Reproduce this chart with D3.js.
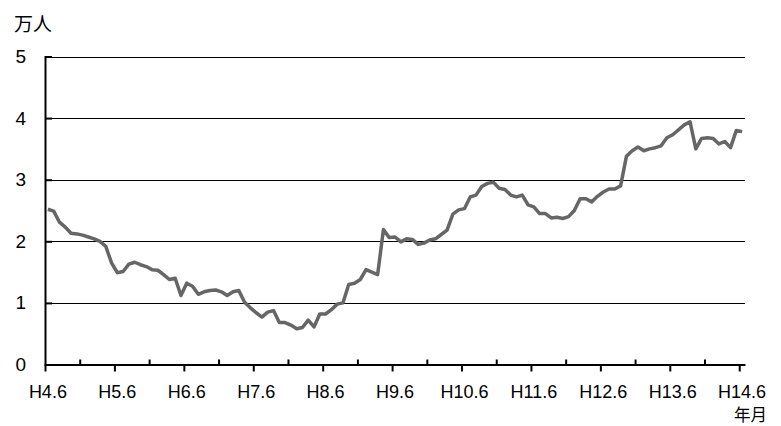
<!DOCTYPE html>
<html>
<head>
<meta charset="utf-8">
<script src="https://cdn.jsdelivr.net/npm/d3@7"></script>
<style>
  body { margin: 0; background: #fff; }
  text { font-family: "Liberation Sans", Arial, sans-serif; }
</style>
</head>
<body>
<div id="chart"></div>
<script>
// monthly values, H4.6 .. H14.6 (万人)
const values = [
  2.52, 2.49, 2.31, 2.23, 2.13, 2.12, 2.10, 2.07, 2.04, 2.00, 1.92, 1.65,
  1.49, 1.51, 1.63, 1.66, 1.62, 1.59, 1.54, 1.53, 1.46, 1.38, 1.40, 1.12,
  1.32, 1.27, 1.14, 1.18, 1.20, 1.21, 1.18, 1.12, 1.18, 1.20, 1.01, 0.92,
  0.84, 0.77, 0.85, 0.875, 0.68, 0.68, 0.64, 0.58, 0.60, 0.72, 0.61, 0.82,
  0.82, 0.89, 0.98, 1.00, 1.30, 1.32, 1.38, 1.54, 1.50, 1.46, 2.19, 2.06,
  2.07, 1.99, 2.04, 2.03, 1.95, 1.97, 2.02, 2.04, 2.11, 2.18, 2.44, 2.51,
  2.53, 2.72, 2.75, 2.89, 2.94, 2.96, 2.86, 2.84, 2.75, 2.72, 2.75, 2.59,
  2.56, 2.45, 2.45, 2.38, 2.39, 2.37, 2.40, 2.50, 2.69, 2.69, 2.64, 2.73,
  2.80, 2.85, 2.85, 2.90, 3.38, 3.47, 3.53, 3.47, 3.50, 3.52, 3.55, 3.68,
  3.73, 3.81, 3.89, 3.94, 3.50, 3.67, 3.68, 3.67, 3.58, 3.62, 3.52, 3.80,
  3.78
];
const xLabels = ["H4.6", "H5.6", "H6.6", "H7.6", "H8.6", "H9.6", "H10.6", "H11.6", "H12.6", "H13.6", "H14.6"];
const yTicks = [0, 1, 2, 3, 4, 5];

const width = 781, height = 426;
const margin = {left: 45, right: 745, top: 56.5, bottom: 364.5};

const svg = d3.select("#chart").append("svg")
    .attr("width", width)
    .attr("height", height);

const x = d3.scaleLinear().domain([0, values.length]).range([margin.left, margin.right]);
const y = d3.scaleLinear().domain([0, 5]).range([margin.bottom, margin.top]);

const major = xLabels.map((d, i) => i * 12);
const minor = major.slice(0, -1).map(d => d + 6);

// gridlines
svg.append("g")
    .selectAll("line")
    .data(yTicks.filter(d => d > 0))
    .join("line")
    .attr("x1", margin.left).attr("x2", margin.right)
    .attr("y1", d => Math.round(y(d)) + 0.5)
    .attr("y2", d => Math.round(y(d)) + 0.5)
    .attr("stroke", "#000")
    .attr("stroke-width", 1);

// y axis
const yAxis = svg.append("g")
    .attr("transform", `translate(${margin.left},0)`)
    .call(d3.axisLeft(y).tickValues(yTicks).tickFormat(d3.format("d")).tickSize(-7).tickPadding(19));
yAxis.select(".domain").attr("stroke-width", 2);
yAxis.selectAll(".tick line").attr("stroke-width", 2);
yAxis.selectAll("text").style("font-size", "19px").attr("fill", "#000");

// x axis major ticks (down) and minor ticks (up)
const xAxis = svg.append("g")
    .attr("transform", `translate(0,${margin.bottom})`)
    .call(d3.axisBottom(x).tickValues(major).tickSize(7).tickSizeOuter(0).tickFormat(""));
xAxis.select(".domain").attr("stroke-width", 2);
xAxis.selectAll(".tick line").attr("stroke-width", 2);

svg.append("g")
    .attr("transform", `translate(0,${margin.bottom})`)
    .call(d3.axisBottom(x).tickValues(minor).tickSize(-5).tickFormat(""))
    .call(g => g.select(".domain").remove())
    .selectAll(".tick line").attr("stroke-width", 2);

// x labels centred on the month
svg.append("g")
    .selectAll("text")
    .data(xLabels)
    .join("text")
    .attr("x", (d, i) => x(major[i] + 0.5))
    .attr("y", 398)
    .attr("text-anchor", "middle")
    .style("font-size", "18px")
    .text(d => d);

// line
const line = d3.line()
    .x((d, i) => x(i + 0.5))
    .y(d => y(d));

svg.append("path")
    .datum(values)
    .attr("fill", "none")
    .attr("stroke", "#666")
    .attr("stroke-width", 3.5)
    .attr("stroke-linejoin", "round")
    .attr("d", line);

// unit labels
svg.append("text")
    .attr("x", 14).attr("y", 31)
    .style("font-family", "'Noto Sans CJK JP', sans-serif")
    .style("font-size", "19px")
    .text("万人");

svg.append("text")
    .attr("x", 767).attr("y", 421)
    .attr("text-anchor", "end")
    .style("font-family", "'Noto Sans CJK JP', sans-serif")
    .style("font-size", "16.5px")
    .text("年月");
</script>
</body>
</html>
